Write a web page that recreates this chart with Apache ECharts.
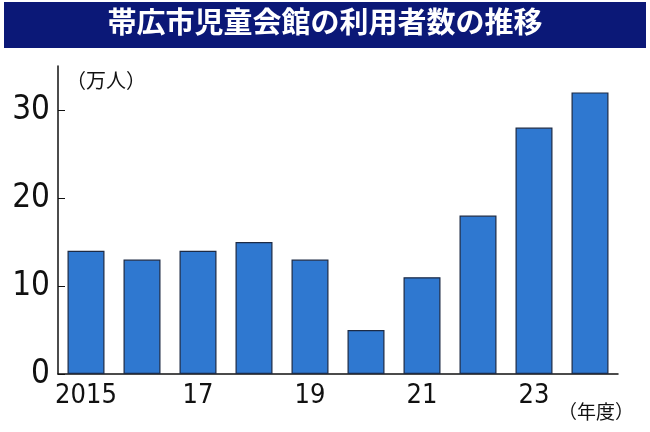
<!DOCTYPE html>
<html><head><meta charset="utf-8">
<script src="https://cdn.jsdelivr.net/npm/echarts@6/dist/echarts.min.js"></script>
<style>html,body{margin:0;padding:0;background:#fff}#c{width:650px;height:432px}</style>
</head><body><div id="c"></div>
<script>
const title = '帯広市児童会館の利用者数の推移';
const categories = ['2015','16','17','18','19','20','21','22','23','24'];
const visitors = [14,13,14,15,13,5,11,18,28,32];
const yTicks = [0,10,20,30];
const unitLabel = '（万人）';
const xUnit = '（年度）';
const chart = echarts.init(document.getElementById('c'));
const narrow = '"Liberation Sans Narrow","DejaVu Sans Condensed",sans-serif';
chart.setOption({
  animation:false,
  graphic:[
    {type:'rect',left:4,top:2,shape:{width:642,height:46},style:{fill:'#0b1877'}},
    {type:'text',left:'center',top:7,style:{text:title,fill:'#fff',font:'bold 29px "Noto Sans CJK JP"'}},
    {type:'text',left:66,top:70,style:{text:unitLabel,fill:'#111',font:'20px "Noto Sans CJK JP"'}},
    {type:'text',left:558,top:402,style:{text:xUnit,fill:'#111',font:'19px "Noto Sans CJK JP"'}}
  ],
  grid:{left:58,right:32,top:66,bottom:58},
  xAxis:{type:'category',data:categories,
    axisLine:{lineStyle:{color:'#111',width:1.5}},axisTick:{show:false},
    axisLabel:{color:'#111',fontSize:27,fontFamily:narrow,margin:8}},
  yAxis:{type:'value',min:0,max:35,interval:10,
    splitLine:{show:false},
    axisLine:{show:true,lineStyle:{color:'#111',width:1.5}},
    axisTick:{show:true,inside:true,length:7,lineStyle:{color:'#111'}},
    axisLabel:{color:'#111',fontSize:33,fontFamily:narrow,margin:8,showMaxLabel:false,
      formatter:v=>yTicks.includes(v)?String(v):''}},
  series:[{type:'bar',data:visitors,barWidth:37,
    itemStyle:{color:'#2f78d0',borderColor:'#1c2a45',borderWidth:1.2}}]
});
</script></body></html>
